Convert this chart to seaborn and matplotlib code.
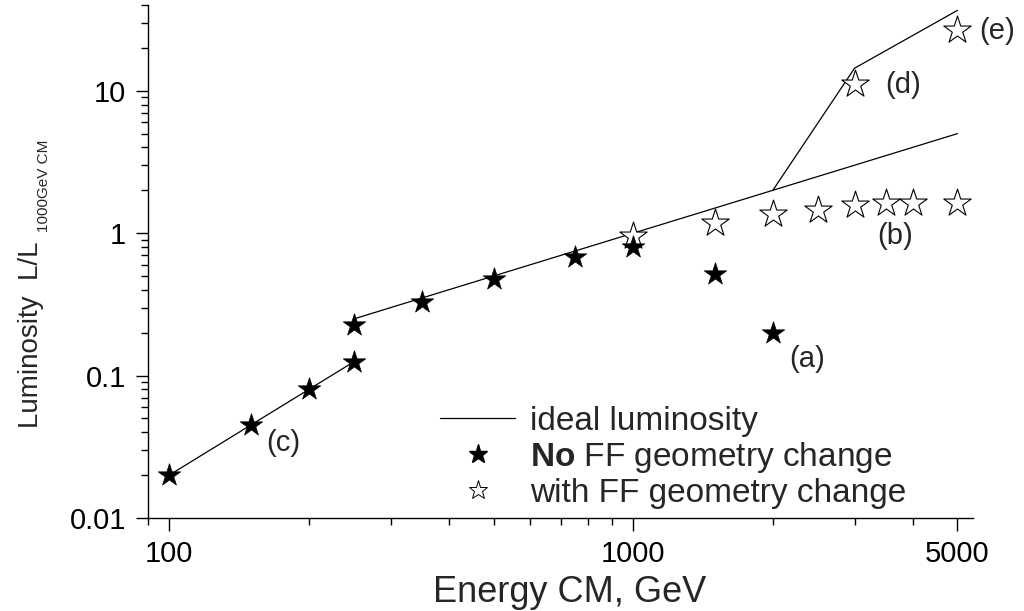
import numpy as np
import pandas as pd
import matplotlib
matplotlib.use("Agg")
import matplotlib.pyplot as plt
import seaborn as sns
from matplotlib.lines import Line2D
from matplotlib.ticker import FixedLocator, FuncFormatter, NullFormatter

# ---------------- data ----------------
energy_no = [100, 150, 200, 250, 250, 350, 500, 750, 1000, 1500, 2000]
lum_no = [0.02, 0.045, 0.08, 0.125, 0.225, 0.33, 0.48, 0.68, 0.80, 0.52, 0.20]

energy_with = [1000, 1500, 2000, 2500, 3000, 3500, 4000, 5000, 3000, 5000]
lum_with = [0.95, 1.17, 1.37, 1.45, 1.57, 1.64, 1.62, 1.62, 11.1, 26.6]

ideal_seg = ["low", "low", "mid", "mid", "mid", "high", "high", "high"]
ideal_energy = [100, 250, 250, 2000, 5000, 2000, 3000, 5000]
ideal_lum = [0.02, 0.125, 0.25, 2.0, 5.0, 2.0, 14.4, 36.7]

annot_text = ["(a)", "(b)", "(c)", "(d)", "(e)"]
annot_energy = [2173, 3365, 162, 3500, 5560]
annot_lum = [0.13, 0.95, 0.0336, 10.9, 26.2]

x_major = [100, 1000, 5000]
x_minor = [90, 200, 300, 400, 500, 600, 700, 800, 900, 2000, 3000, 4000]
y_major = [0.01, 0.1, 1, 10]
y_minor = [0.02, 0.03, 0.04, 0.05, 0.06, 0.07, 0.08, 0.09,
           0.2, 0.3, 0.4, 0.5, 0.6, 0.7, 0.8, 0.9,
           2, 3, 4, 5, 6, 7, 8, 9, 20, 30, 40]

legend_labels = ["ideal luminosity", r"$\bf{No}$ FF geometry change", "with FF geometry change"]

# ---------------- style ----------------
sns.set_style("ticks")
plt.rcParams['font.family'] = ['Liberation Sans', 'DejaVu Sans']
plt.rcParams['mathtext.fontset'] = 'custom'
plt.rcParams['mathtext.rm'] = 'Liberation Sans'
plt.rcParams['mathtext.bf'] = 'Liberation Sans:bold'
plt.rcParams['axes.edgecolor'] = 'black'
plt.rcParams['xtick.color'] = 'black'
plt.rcParams['ytick.color'] = 'black'

fig = plt.figure(figsize=(10.24, 6.11), dpi=100)
ax = fig.add_axes([148/1024, 1-518/611, (973-148)/1024, (518-5)/611])
ax.set_xscale('log')
ax.set_yscale('log')

df_ideal = pd.DataFrame(dict(E=ideal_energy, L=ideal_lum, seg=ideal_seg))
sns.lineplot(data=df_ideal, x="E", y="L", units="seg", estimator=None,
             color="black", lw=0.9, ax=ax, legend=False, zorder=1)

sns.scatterplot(x=energy_with, y=lum_with, marker="*", s=430, color="white",
                edgecolor="black", linewidth=0.8, ax=ax, zorder=3, legend=False)
sns.scatterplot(x=energy_no, y=lum_no, marker="*", s=290, color="black",
                edgecolor="black", linewidth=0.5, ax=ax, zorder=4, legend=False)

for t, e, l in zip(annot_text, annot_energy, annot_lum):
    ax.text(e, l, t, fontsize=21, ha='left', va='center', clip_on=False)

ax.set_xlim(90, 5400)
ax.set_ylim(0.01, 40)
ax.xaxis.set_major_locator(FixedLocator(x_major))
ax.xaxis.set_minor_locator(FixedLocator(x_minor))
ax.yaxis.set_major_locator(FixedLocator(y_major))
ax.yaxis.set_minor_locator(FixedLocator(y_minor))
fmt = FuncFormatter(lambda v, p: f"{v:g}")
ax.xaxis.set_major_formatter(fmt)
ax.yaxis.set_major_formatter(fmt)
ax.xaxis.set_minor_formatter(NullFormatter())
ax.yaxis.set_minor_formatter(NullFormatter())
ax.tick_params(which='major', length=9, width=1, labelsize=21, pad=7, direction='out')
ax.tick_params(which='minor', length=5, width=1, direction='out')
sns.despine(ax=ax)
for sp in ['left', 'bottom']:
    ax.spines[sp].set_linewidth(1)
    ax.spines[sp].set_color('black')

ax.set_xlabel("Energy CM, GeV", fontsize=26)
ax.xaxis.set_label_coords((570-148)/825, -0.112)
ax.set_ylabel("")

fig.text(31/1024, 1-428/611, "Luminosity  L/L", rotation=90, ha='center', va='bottom', fontsize=20)
fig.text(44/1024, 1-232/611, "1000GeV CM", rotation=90, ha='center', va='bottom', fontsize=11,
         family=['Liberation Sans Narrow', 'Liberation Sans'])

handles = [Line2D([], [], color='black', lw=0.9),
           Line2D([], [], ls='', marker='*', ms=14, mfc='black', mec='black'),
           Line2D([], [], ls='', marker='*', ms=14, mfc='white', mec='black', mew=0.7)]
ax.legend(handles, legend_labels, loc='upper left', bbox_to_anchor=(440/1024, 1-406/611),
          bbox_transform=fig.transFigure, frameon=False, fontsize=24, handlelength=2.25,
          handletextpad=0.45, labelspacing=0.09, borderpad=0, borderaxespad=0)

fig.savefig("out.png", dpi=100)
